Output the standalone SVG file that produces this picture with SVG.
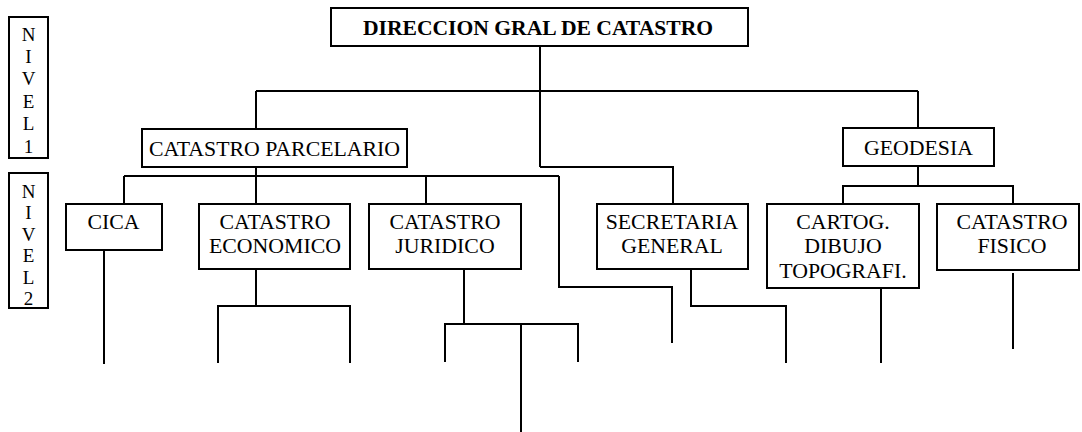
<svg xmlns="http://www.w3.org/2000/svg" width="1082" height="432" viewBox="0 0 1082 432">
<style>
rect.box{fill:#fff;stroke:#000;stroke-width:2}
text{font-family:"Liberation Serif","Times New Roman",serif;font-size:21.8px;fill:#000;text-anchor:middle}
text.b{font-weight:bold;font-size:21.6px}
text.v{font-size:19px}
.c line,.c polyline{stroke:#000;stroke-width:2;fill:none}
</style>
<rect width="1082" height="432" fill="#fff"/>
<g class="c" id="connectors">
<line x1="540" y1="46" x2="540" y2="167"/>
<polyline points="540,167 673,167 673,204"/>
<line x1="256" y1="91" x2="918" y2="91"/>
<line x1="256" y1="91" x2="256" y2="129"/>
<line x1="918" y1="91" x2="918" y2="128"/>
<line x1="256" y1="167" x2="256" y2="204"/>
<line x1="124" y1="176" x2="559" y2="176"/>
<line x1="124" y1="176" x2="124" y2="204"/>
<line x1="426" y1="176" x2="426" y2="204"/>
<polyline points="559,176 559,287 672,287 672,343"/>
<line x1="104" y1="250" x2="104" y2="364"/>
<line x1="256" y1="269" x2="256" y2="306"/>
<polyline points="218,363 218,306 350,306 350,363"/>
<line x1="464" y1="269" x2="464" y2="324"/>
<polyline points="445,362 445,324 578,324 578,362"/>
<line x1="521" y1="324" x2="521" y2="432"/>
<polyline points="691,269 691,306 786,306 786,363"/>
<line x1="918" y1="166" x2="918" y2="186"/>
<polyline points="843,204 843,186 1013,186 1013,204"/>
<line x1="881" y1="288" x2="881" y2="363"/>
<line x1="1013" y1="273" x2="1013" y2="349"/>
</g>
<g id="nivel1">
<rect class="box" x="9" y="17" width="39" height="141"/>
<text class="v" x="28.5" y="40.5">N</text>
<text class="v" x="28.5" y="62.9">I</text>
<text class="v" x="28.5" y="85.3">V</text>
<text class="v" x="28.5" y="107.7">E</text>
<text class="v" x="28.5" y="130.1">L</text>
<text class="v" x="28.5" y="152.5">1</text>
</g>
<g id="nivel2">
<rect class="box" x="9" y="173" width="39" height="135"/>
<text class="v" x="28.5" y="197.5">N</text>
<text class="v" x="28.5" y="219.1">I</text>
<text class="v" x="28.5" y="240.7">V</text>
<text class="v" x="28.5" y="262.3">E</text>
<text class="v" x="28.5" y="283.9">L</text>
<text class="v" x="28.5" y="305">2</text>
</g>
<g id="direccion">
<rect class="box" x="331" y="8" width="417" height="38"/>
<text class="b" x="538" y="34.5">DIRECCION GRAL DE CATASTRO</text>
</g>
<g id="parcelario">
<rect class="box" x="142" y="129" width="265" height="38"/>
<text x="274.5" y="155.5">CATASTRO PARCELARIO</text>
</g>
<g id="geodesia">
<rect class="box" x="843" y="128" width="151" height="38"/>
<text x="918.5" y="154.5">GEODESIA</text>
</g>
<g id="cica">
<rect class="box" x="66" y="204" width="96" height="46"/>
<text x="113.5" y="228.8">CICA</text>
</g>
<g id="economico">
<rect class="box" x="199" y="204" width="151" height="65"/>
<text x="275" y="228.8">CATASTRO</text>
<text x="275" y="252.8">ECONOMICO</text>
</g>
<g id="juridico">
<rect class="box" x="369" y="204" width="152" height="65"/>
<text x="445" y="228.8">CATASTRO</text>
<text x="445" y="252.8">JURIDICO</text>
</g>
<g id="secretaria">
<rect class="box" x="597" y="204" width="151" height="65"/>
<text x="672" y="228.8">SECRETARIA</text>
<text x="672" y="252.8">GENERAL</text>
</g>
<g id="cartog">
<rect class="box" x="767" y="204" width="152" height="84"/>
<text x="843" y="228.8">CARTOG.</text>
<text x="843" y="252.8">DIBUJO</text>
<text x="843" y="278">TOPOGRAFI.</text>
</g>
<g id="fisico">
<rect class="box" x="937" y="204" width="142" height="66"/>
<text x="1012" y="228.8">CATASTRO</text>
<text x="1012" y="252.8">FISICO</text>
</g>
</svg>
